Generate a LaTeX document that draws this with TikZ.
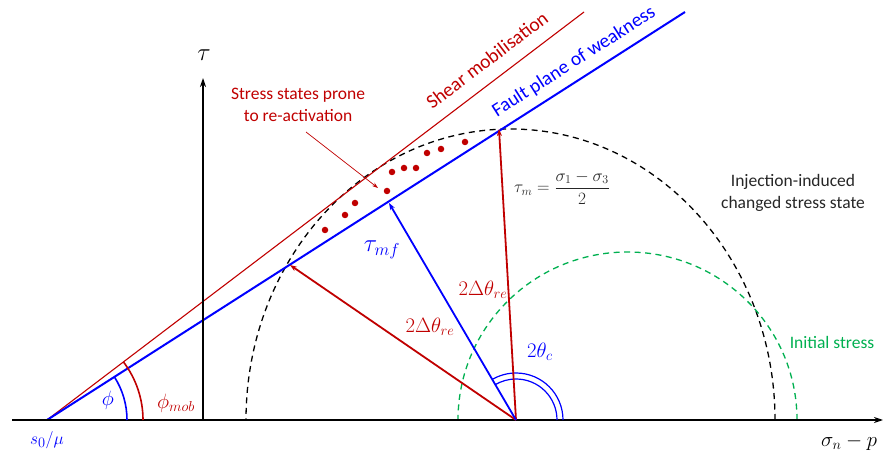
\documentclass[tikz,border=0pt]{standalone}
\usepackage{fontspec}
\setmainfont{Carlito}
\usetikzlibrary{arrows.meta,calc}
\definecolor{myred}{HTML}{C00000}
\definecolor{myblue}{HTML}{0000FF}
\definecolor{mygreen}{HTML}{00B050}
\definecolor{mygray}{HTML}{262626}
\tikzset{
  axisline/.style={line width=1.6pt, black, -{Stealth[length=9pt,width=6pt]}},
  dashcircle/.style={line width=1.3pt, dash pattern=on 6pt off 4.5pt},
  vecred/.style={line width=1.8pt, myred, -{Stealth[length=7pt,width=5pt]}},
  vecblue/.style={line width=1.8pt, myblue, -{Stealth[length=7pt,width=5pt]}},
  reddot/.style={circle, fill=myred, inner sep=0pt, minimum size=6.5pt},
  txt/.style={font=\fontsize{17.5}{22}\selectfont, align=center, inner sep=0pt},
  rtxt/.style={font=\fontsize{19.5}{22}\selectfont, inner sep=0pt},
  mathlbl/.style={inner sep=0pt, font=\fontsize{17}{20}\selectfont}
}
\begin{document}
\begin{tikzpicture}[x=1pt,y=1pt]
\useasboundingbox (0,0) rectangle (888,455);
% key points
\coordinate (Ol) at (47,35);
\coordinate (O) at (516,35);
\coordinate (Bend) at (685,443);
\coordinate (Rend) at (584,443);
\coordinate (Xs) at (12,35);
\coordinate (Xe) at (883,35);
\coordinate (Ys) at (203,35);
\coordinate (Ye) at (203,377);
\coordinate (Ttop) at (499,326);
\coordinate (Tmf) at (389,252);
\coordinate (Tre) at (290,190);
\coordinate (Aa) at (306,323);
\coordinate (Ab) at (378,267);
% circles
\draw[dashcircle, black] (775,35) arc[start angle=0, end angle=180, x radius=264.5, y radius=291];
\draw[dashcircle, mygreen] (797,35) arc[start angle=0, end angle=180, x radius=169.5, y radius=168] -- cycle;
% lines
\draw[myred, line width=1.1pt] (Ol) -- (Rend);
\draw[myblue, line width=2pt] (Ol) -- (Bend);
% axes
\draw[axisline] (Xs) -- (Xe);
\draw[axisline] (Ys) -- (Ye);
% angle arcs
\draw[myblue, line width=1.6pt] ($(Ol)+(80,0)$) arc[start angle=0, end angle=32.6, radius=80];
\draw[myred, line width=1.6pt] ($(Ol)+(96,0)$) arc[start angle=0, end angle=37.2, radius=96];
\draw[myblue, line width=1.2pt] ($(O)+(47,0)$) arc[start angle=0, end angle=120.3, radius=47];
\draw[myblue, line width=1.2pt] ($(O)+(41,0)$) arc[start angle=0, end angle=120.3, radius=41];
% vectors
\draw[vecred] (O) -- (Ttop);
\draw[vecred] (O) -- (Tre);
\draw[vecblue] (O) -- (Tmf);
% dots
\foreach \i/\p in {1/{(325,225)},2/{(345,240)},3/{(355,252)},4/{(387,264)},5/{(392,283)},6/{(404,287)},7/{(416,287)},8/{(427,302)},9/{(441,306)},10/{(465,313)}}
  \node[reddot] (d\i) at \p {};
% annotation arrow
\draw[myred, line width=0.7pt, -{Stealth[length=6pt,width=4pt]}] (Aa) -- (Ab);
% labels
\node[txt, myred] (lstress) at (298,350) {Stress states prone\\to re-activation};
\node[rtxt, myred, rotate=37.2] (lshear) at (487,395) {Shear mobilisation};
\node[rtxt, myblue, rotate=32.6] (lfault) at (574,393) {Fault plane of weakness};
\node[txt, mygray] (linj) at (793,262) {Injection-induced\\changed stress state};
\node[txt, mygreen] (linit) at (832,113) {Initial stress};
\node[mathlbl, mygray] (ltaum) at (562,267) {$\displaystyle\tau_m=\frac{\sigma_1-\sigma_3}{2}$};
\node[inner sep=0pt, black, font=\fontsize{21}{24}\selectfont] (lsig) at (849,13) {$\sigma_n-p$};
\node[inner sep=0pt, font=\fontsize{36}{36}\selectfont] (ltau) at (204,400) {$\tau$};
\node[inner sep=0pt, myblue, font=\fontsize{25}{28}\selectfont] (ltaumf) at (382,205) {$\tau_{mf}$};
\node[inner sep=0pt, myred, font=\fontsize{20}{22}\selectfont] (lre1) at (483,165) {$2\Delta\theta_{re}$};
\node[inner sep=0pt, myred, font=\fontsize{20}{22}\selectfont] (lre2) at (430,128) {$2\Delta\theta_{re}$};
\node[inner sep=0pt, myblue, font=\fontsize{22}{24}\selectfont] (lthc) at (540,103) {$2\theta_c$};
\node[inner sep=0pt, myblue, font=\fontsize{22}{24}\selectfont] (lphi) at (108,55) {$\phi$};
\node[inner sep=0pt, myred, font=\fontsize{22}{24}\selectfont] (lphim) at (176,52) {$\phi_{mob}$};
\node[inner sep=0pt, myblue, font=\fontsize{19}{22}\selectfont] (ls0) at (47,15) {$s_0/\mu$};
\end{tikzpicture}
\end{document}
